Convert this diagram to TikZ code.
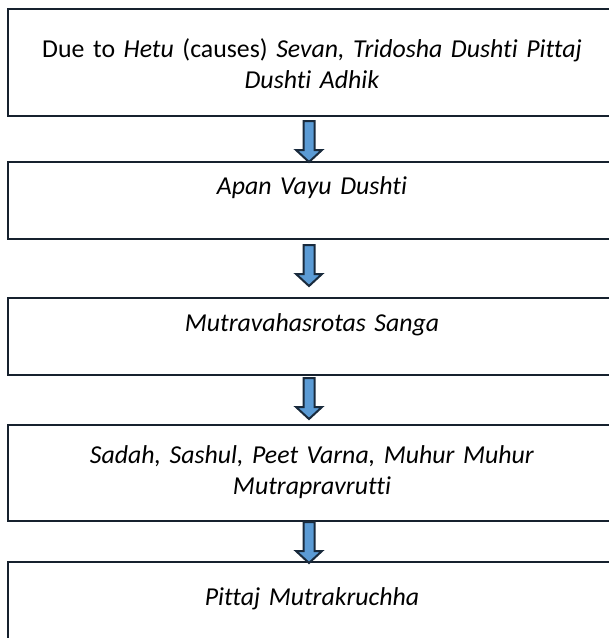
\documentclass[tikz,border=0pt]{standalone}
\usepackage{fontspec}
\setmainfont{Carlito}[Ligatures=CommonOff]
\usetikzlibrary{calc}
\definecolor{boxline}{RGB}{22,33,46}
\definecolor{arrowfill}{RGB}{91,155,213}
\definecolor{arrowline}{RGB}{25,42,60}

\begin{document}
\begin{tikzpicture}[x=0.5pt,y=-0.5pt,
    stage/.style={draw=boxline,line width=1.25pt,inner sep=0pt,outer sep=0pt,anchor=north,
      text width=304pt,align=center,font=\fontsize{12.9pt}{15.5pt}\selectfont},
    barrow/.style={draw=arrowline,fill=arrowfill,line width=1pt,line join=miter}]
  \useasboundingbox (0,0) rectangle (609,638);
  \clip (0,0) rectangle (609,638);
  \node[stage,text height=24pt,text depth=29.5pt] (hetu) at (312,9)
    {Due to \textit{Hetu} (causes) \textit{Sevan, Tridosha Dushti Pittaj}\\ \textit{Dushti Adhik}};
  \node[stage,text height=16pt,text depth=22.5pt] (apan) at (312,162) {\textit{Apan Vayu Dushti}};
  \node[stage,text height=16.5pt,text depth=22pt] (sanga) at (312,298) {\textit{Mutravahasrotas Sanga}};
  \node[stage,text height=19pt,text depth=29pt] (sadah) at (312,425)
    {\textit{Sadah, Sashul, Peet Varna, Muhur Muhur}\\ \textit{Mutrapravrutti}};
  \node[stage,text height=21.5pt,text depth=22.5pt] (pittaj) at (312,562) {\textit{Pittaj Mutrakruchha}};
  \foreach \src/\dst/\sa/\sb in {hetu/apan/5/0,apan/sanga/6/-12,sanga/sadah/3/-6,sadah/pittaj/1/1}
    \draw[barrow] let \p1=($(\src.south)+(-3,\sa)$), \p2=($(\dst.north)+(-3,\sb)$) in
      (\x1-2.75pt,\y1) -- (\x1-2.75pt,\y2+6pt) -- (\x1-6.5pt,\y2+6pt) -- (\x2,\y2)
      -- (\x1+6.5pt,\y2+6pt) -- (\x1+2.75pt,\y2+6pt) -- (\x1+2.75pt,\y1) -- cycle;
\end{tikzpicture}
\end{document}
